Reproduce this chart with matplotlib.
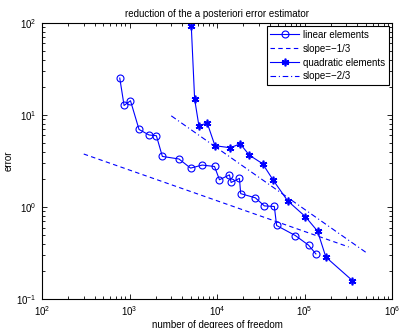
import numpy as np
import matplotlib
matplotlib.use("Agg")
import matplotlib.pyplot as plt

plt.rcParams['font.family'] = ['Liberation Sans', 'DejaVu Sans']
plt.rcParams['mathtext.fontset'] = 'custom'
plt.rcParams['mathtext.rm'] = 'Liberation Sans'

# linear elements
dof_lin = [774, 867, 1026, 1285, 1671, 2029, 2374, 3675, 4991, 6780, 9370,
           10670, 13870, 14500, 18050, 18650, 27450, 34750, 45200, 48000,
           78500, 111200, 135000]
err_lin = [25.2, 12.7, 14.3, 6.97, 6.07, 5.96, 3.55, 3.33, 2.65, 2.86, 2.76,
           1.98, 2.24, 1.85, 2.05, 1.40, 1.26, 1.03, 1.015, 0.631,
           0.491, 0.386, 0.310]

# quadratic elements
dof_quad = [5080, 5550, 6210, 7730, 9480, 14250, 18380, 23450, 33200, 44050,
            64150, 102000, 141000, 175500, 353000]
err_quad = [93.5, 14.9, 7.65, 8.18, 4.64, 4.41, 4.87, 3.66, 2.96, 1.95,
            1.17, 0.79, 0.548, 0.286, 0.159]

# reference slopes
x_s1 = np.array([300, 3.2e5])
y_s1 = 3.77 * (x_s1 / 300) ** (-1 / 3)
x_s2 = np.array([3000, 5e5])
y_s2 = 9.8 * (x_s2 / 3000) ** (-2 / 3)

fig = plt.figure(figsize=(4.0, 3.28), dpi=100)
ax = fig.add_axes([0.105, 0.088, 0.875, 0.842])

blue = (0, 0, 1)
ax.loglog(dof_lin, err_lin, '-o', color=blue, lw=0.8, ms=5, mfc='none',
          mew=0.8, label='linear elements')
ax.loglog(x_s1, y_s1, '--', color=blue, lw=0.8, dashes=(4, 3),
          label='slope=\u22121/3')
ax.loglog(dof_quad, err_quad, '-', marker=(6, 2, 0), color=blue, lw=0.8,
          ms=5.5, mew=1.2, label='quadratic elements')
ax.loglog(x_s2, y_s2, '-.', color=blue, lw=0.8, dashes=(5, 2.5, 1, 2.5),
          label='slope=\u22122/3')

ax.set_xlim(1e2, 1e6)
ax.set_ylim(1e-1, 1e2)
ax.tick_params(which='both', direction='in', top=True, right=True,
               labelsize=7, width=0.6)
ax.tick_params(which='major', length=3.5, pad=4)
ax.tick_params(which='minor', length=2)
for s in ax.spines.values():
    s.set_linewidth(0.8)

ax.set_title('reduction of the a posteriori error estimator', fontsize=7, pad=4)
ax.set_xlabel('number of degrees of freedom', fontsize=7, labelpad=1)
ax.set_ylabel('error', fontsize=7, labelpad=2)

leg = ax.legend(loc='upper right', fontsize=7, numpoints=1, fancybox=False,
                edgecolor='black', framealpha=1, borderaxespad=0.35,
                handlelength=3.0, handletextpad=0.4, labelspacing=0.4,
                borderpad=0.35)
leg.get_frame().set_linewidth(0.8)

fig.savefig('out.png', dpi=100)
